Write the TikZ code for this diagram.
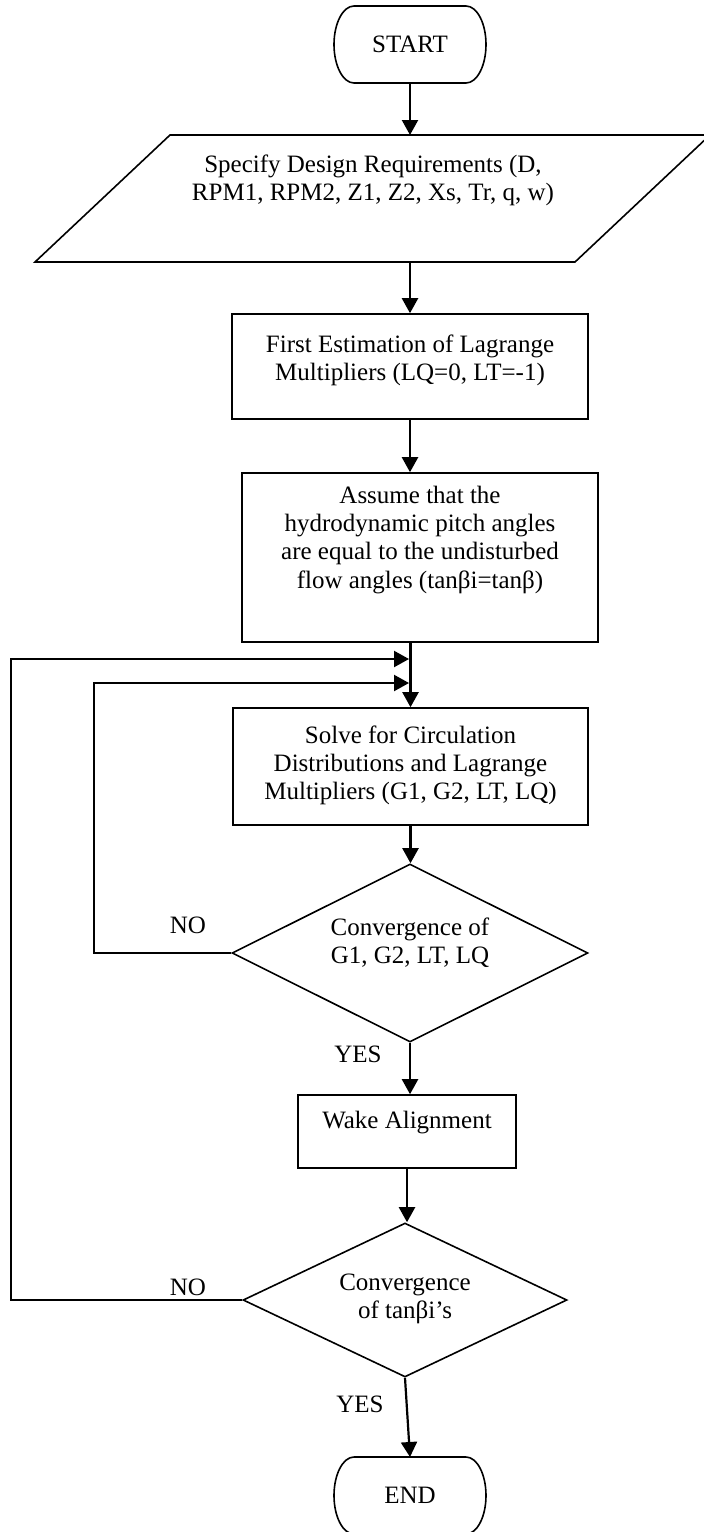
\documentclass[tikz,border=0pt]{standalone}
\usepackage{fontspec}
\setmainfont{Liberation Serif}
\usetikzlibrary{shapes.geometric,arrows.meta}
\newcommand{\txtlines}[1]{\begin{tabular}[t]{@{}c@{}}#1\end{tabular}}
% outline of a start/end terminal: straight top and bottom, half-ellipse ends
\newcommand{\termoutline}[1]{%
  \draw[line width=0.8pt] ([xshift=10pt]#1.north west) -- ([xshift=-10pt]#1.north east)
    arc[start angle=90,end angle=-90,x radius=10pt,y radius=19.25pt]
    -- ([xshift=10pt]#1.south west)
    arc[start angle=270,end angle=90,x radius=10pt,y radius=19.25pt] -- cycle;}

\begin{document}
\begin{tikzpicture}[x=0.5pt,y=-0.5pt,
  every node/.style={font=\fontsize{12.5}{14.2}\selectfont},
  terminal/.style={minimum width=76pt,minimum height=38.5pt,inner sep=0pt,outer sep=0pt},
  procbox/.style={draw,line width=0.8pt,inner sep=0pt},
  decision/.style={draw,line width=0.8pt,diamond,aspect=2,inner sep=0pt},
  flow/.style={line width=1.1pt,-{Triangle[length=7.5pt,width=8pt]}},
  lbl/.style={anchor=base}]
  \useasboundingbox (0,0) rectangle (703,1532);
  \fill[white] (0,0) rectangle (703,1532);

  \node[terminal] (start) at (410,44.5) {START};
  \termoutline{start}

  % input parallelogram
  \coordinate (pTL) at (170,135);
  \coordinate (pTR) at (710,135);
  \coordinate (pBR) at (575,262);
  \coordinate (pBL) at (35,262);
  \draw[line width=0.8pt] (pBL) -- (pBR) -- (pTR) -- (pTL) -- cycle;
  \node[lbl] (spec) at (373,172) {\txtlines{Specify Design Requirements (D,\\RPM1, RPM2, Z1, Z2, Xs, Tr, q, w)}};

  \node[procbox,minimum width=178pt,text height=19pt,text depth=33.5pt] (estim) at (410,366.5)
    {\txtlines{First Estimation of Lagrange\\Multipliers (LQ=0, LT=-1)}};
  \node[procbox,minimum width=178pt,text height=15pt,text depth=69.5pt] (assume) at (420,557.5)
    {\txtlines{Assume that the\\hydrodynamic pitch angles\\are equal to the undisturbed\\flow angles (tanβi=tanβ)}};
  \node[procbox,minimum width=177.5pt,text height=17.5pt,text depth=41pt] (solve) at (410.5,766.5)
    {\txtlines{Solve for Circulation\\Distributions and Lagrange\\Multipliers (G1, G2, LT, LQ)}};
  \node[decision,minimum width=178pt,minimum height=89pt,text height=10pt,text depth=28pt] (conv1) at (410,953)
    {\txtlines{Convergence of\\G1, G2, LT, LQ}};
  \node[procbox,minimum width=109pt,text height=16.5pt,text depth=20pt] (wake) at (407,1131.5)
    {\txtlines{Wake Alignment}};
  \node[decision,minimum width=162pt,minimum height=77pt,text height=8pt,text depth=18pt] (conv2) at (405,1300)
    {\txtlines{Convergence\\of tanβi’s}};
  \node[terminal] (finish) at (410,1495.5) {END};
  \termoutline{finish}

  % branch labels
  \node[lbl] (no1) at (188,933) {NO};
  \node[lbl] (yes1) at (358,1062) {YES};
  \node[lbl] (no2) at (188,1295) {NO};
  \node[lbl] (yes2) at (360,1412) {YES};

  % main flow
  \draw[flow] (start.south) -- (start.south |- pTL);
  \draw[flow] (estim.north |- pBL) -- (estim.north);
  \draw[flow] (estim.south) -- (estim.south |- assume.north);
  \draw[flow] (solve.north |- assume.south) -- (solve.north);
  \draw[flow] (solve.south) -- (solve.south |- conv1.north);
  \draw[flow] (conv1.south) -- (conv1.south |- wake.north);
  \draw[flow] (wake.south) -- (wake.south |- conv2.north);
  \draw[flow] (conv2.south) -- (finish.north);

  % feedback loops
  \coordinate (merge1) at (409,659);
  \coordinate (merge2) at (409,683);
  \draw[flow] (conv2.west) -- ++(-231,0) |- (merge1);
  \draw[flow] (conv1.west) -- ++(-137,0) |- (merge2);
\end{tikzpicture}
\end{document}
